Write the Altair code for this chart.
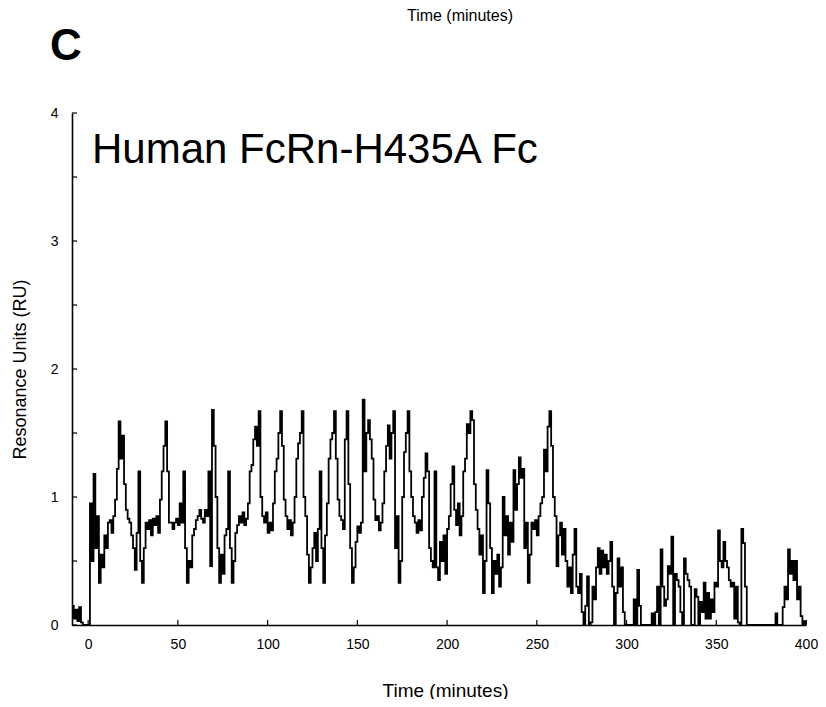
import altair as alt
import pandas as pd

# time in minutes (1-minute samples) and response in RU
times = list(range(-9, 401))
values = [
    0.15, 0.05, 0.12, 0.03, 0.14, 0.02, 0.0, 0.0, 0.0,
    0.0, 0.95, 0.5, 1.18, 0.6, 0.85, 0.33, 0.55, 0.45, 0.7,
    0.6, 0.8, 0.82, 0.72, 0.85, 0.98, 1.22, 1.59, 1.3, 1.48,
    1.1, 0.9, 0.83, 0.8, 0.7, 0.6, 0.43, 0.72, 1.2, 0.5,
    0.33, 0.6, 0.8, 0.75, 0.82, 0.7, 0.83, 0.78, 0.85, 0.72,
    0.98, 1.2, 1.4, 1.59, 1.2, 0.8, 0.8, 0.75, 0.8, 0.83,
    0.78, 0.95, 0.8, 1.2, 0.6, 0.33, 0.5, 0.45, 0.7, 0.75,
    0.82, 0.85, 0.9, 0.83, 0.8, 0.9, 0.85, 1.2, 0.46, 1.68,
    1.4, 1.0, 0.6, 0.33, 0.55, 0.4, 0.7, 0.75, 1.2, 0.6,
    0.33, 0.5, 0.72, 0.78, 0.85, 0.8, 0.88, 0.78, 0.83, 0.95,
    1.2, 1.25, 1.45, 1.55, 1.4, 1.67, 1.0, 0.85, 0.8, 0.88,
    0.72, 0.8, 0.74, 0.95, 1.2, 1.3, 1.5, 1.67, 1.4, 0.98,
    0.85, 0.75, 0.82, 0.7, 0.8, 1.0, 1.3, 1.42, 1.5, 1.67,
    1.0, 0.85, 0.55, 0.33, 0.45, 0.6, 0.72, 0.5, 0.75, 1.2,
    0.6, 0.33, 0.7, 0.95, 1.3, 1.45, 1.5, 1.67, 1.3, 0.98,
    0.85, 0.82, 0.75, 1.45, 1.67, 1.1, 0.6, 0.33, 0.45, 0.65,
    0.77, 0.72, 0.8, 1.76, 1.2, 1.5, 1.6, 1.45, 1.3, 0.98,
    0.82, 0.85, 0.74, 0.8, 0.95, 1.2, 1.4, 1.56, 1.3, 1.5,
    1.67, 0.6, 0.85, 0.33, 0.5, 1.0, 1.35, 1.5, 1.67, 1.2,
    1.0, 0.85, 0.8, 0.72, 0.82, 0.74, 1.0, 1.15, 1.34, 1.2,
    0.6, 0.5, 0.45, 1.2, 0.45, 0.35, 0.65, 0.5, 0.7, 0.4,
    0.75, 0.85, 1.1, 1.24, 0.9, 0.78, 0.95, 0.7, 0.85, 1.2,
    1.3, 1.57, 1.5, 1.67, 1.6, 1.1, 0.9, 0.75, 0.55, 0.7,
    0.25, 0.5, 1.21, 0.95, 0.6, 0.25, 0.5, 0.4, 0.55, 0.3,
    0.45, 1.0, 0.7, 0.85, 0.55, 0.8, 0.65, 1.21, 0.9, 1.1,
    1.31, 1.15, 1.22, 0.6, 0.8, 0.33, 0.55, 0.8, 0.75, 0.82,
    0.7, 0.85, 0.95, 1.0, 1.37, 1.2, 1.55, 1.67, 1.4, 1.0,
    0.85, 0.46, 0.7, 0.8, 0.55, 0.75, 0.5, 0.3, 0.45, 0.25,
    0.55, 0.75, 0.3, 0.25, 0.4, 0.1, 0.0, 0.15, 0.38, 0.0,
    0.02, 0.3, 0.2, 0.45, 0.6, 0.4, 0.58, 0.45, 0.55, 0.4,
    0.5, 0.65, 0.3, 0.0, 0.25, 0.52, 0.3, 0.45, 0.1, 0.0,
    0.0, 0.0, 0.0, 0.0, 0.2, 0.0, 0.43, 0.15, 0.0, 0.0,
    0.0, 0.0, 0.0, 0.0, 0.09, 0.0, 0.1, 0.3, 0.0, 0.59,
    0.3, 0.15, 0.2, 0.46, 0.4, 0.69, 0.0, 0.4, 0.35, 0.3,
    0.1, 0.0, 0.52, 0.4, 0.35, 0.3, 0.0, 0.0, 0.28, 0.22,
    0.0, 0.18, 0.1, 0.33, 0.05, 0.25, 0.05, 0.2, 0.1, 0.33,
    0.3, 0.74, 0.5, 0.45, 0.65, 0.5, 0.45, 0.35, 0.3, 0.33,
    0.05, 0.3, 0.02, 0.0, 0.75, 0.64, 0.3, 0.0, 0.0, 0.0,
    0.0, 0.0, 0.0, 0.0, 0.0, 0.0, 0.0, 0.0, 0.0, 0.0,
    0.0, 0.0, 0.0, 0.09, 0.0, 0.0, 0.0, 0.14, 0.3, 0.2,
    0.59, 0.4, 0.5, 0.35, 0.5, 0.2, 0.3, 0.07, 0.0, 0.03,
    0.0,
]

x_ticks = [0, 50, 100, 150, 200, 250, 300, 350, 400]
y_ticks = [0, 1, 2, 3, 4]
y_minor = [0, 0.5, 1, 1.5, 2, 2.5, 3, 3.5, 4]

panel_letter = "C"
title_text = "Human FcRn-H435A Fc"
x_title = "Time (minutes)"
y_title = "Resonance Units (RU)"

W, H = 734, 512
FONT = "Liberation Sans"

df = pd.DataFrame({"t": times, "ru": values})
xt = pd.DataFrame({"t": x_ticks})
yt = pd.DataFrame({"ru": y_minor})

xscale = alt.Scale(domain=[-9, 400], nice=False, zero=False)
yscale = alt.Scale(domain=[0, 4], nice=False)

line = alt.Chart(df).mark_line(
    interpolate="step-after", color="black", strokeWidth=1.8
).encode(
    x=alt.X("t:Q", scale=xscale, axis=alt.Axis(
        values=x_ticks, ticks=False, grid=False, domainColor="black",
        domainWidth=1.6, labelFont=FONT, labelFontSize=14, labelColor="black",
        labelPadding=12, format="d", title=x_title, titleFont=FONT,
        titleFontSize=19, titleFontWeight="normal", titleColor="black",
        titleX=373, titleY=65, titleAnchor="middle", titleBaseline="middle",
        labelFlush=False)),
    y=alt.Y("ru:Q", scale=yscale, axis=alt.Axis(
        values=y_ticks, ticks=False, grid=False, domainColor="black",
        domainWidth=1.6, labelFont=FONT, labelFontSize=14, labelColor="black",
        labelPadding=14, format="d", title=y_title, titleFont=FONT,
        titleFontSize=18, titleFontWeight="normal", titleColor="black",
        titleX=-52, titleY=256, titleAngle=-90, titleAlign="center",
        titleBaseline="middle", labelFlush=False)),
)

xtick_layer = alt.Chart(xt).mark_rule(color="black", strokeWidth=1.2).encode(
    x=alt.X("t:Q", scale=xscale), y=alt.value(H), y2=alt.value(H - 5)
)
ytick_layer = alt.Chart(yt).mark_rule(color="black", strokeWidth=1.2).encode(
    y=alt.Y("ru:Q", scale=yscale), x=alt.value(0), x2=alt.value(5)
)

title_layer = alt.Chart(pd.DataFrame({"s": [title_text]})).mark_text(
    align="left", baseline="middle", font=FONT, fontSize=42, color="black"
).encode(text="s:N", x=alt.value(20), y=alt.value(37))

letter_layer = alt.Chart(pd.DataFrame({"s": [panel_letter]})).mark_text(
    align="left", baseline="middle", font=FONT, fontSize=44,
    fontWeight="bold", color="black"
).encode(text="s:N", x=alt.value(-22), y=alt.value(-66))

top_layer = alt.Chart(pd.DataFrame({"s": [x_title]})).mark_text(
    align="center", baseline="top", font=FONT, fontSize=16, color="black"
).encode(text="s:N", x=alt.value(388), y=alt.value(-105))

chart = alt.layer(
    line, xtick_layer, ytick_layer, title_layer, letter_layer, top_layer
).properties(
    width=W, height=H,
    background="white",
    autosize=alt.AutoSizeParams(type="none"),
    padding={"left": 64, "top": 105, "right": 12, "bottom": 74},
).configure_view(stroke=None)

chart.save("out.html", embed_options={"renderer": "svg", "actions": False})
